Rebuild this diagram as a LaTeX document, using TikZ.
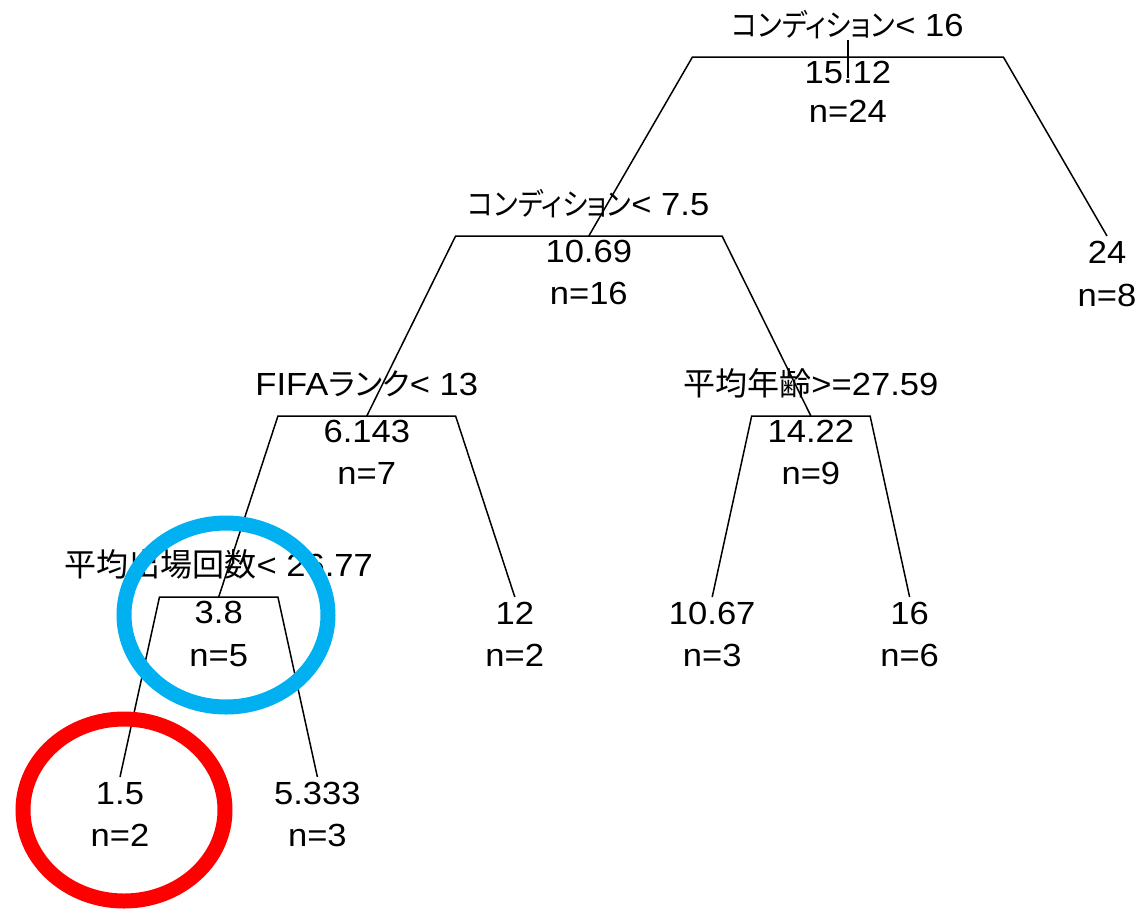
\documentclass[tikz,border=0pt]{standalone}
\usepackage{fontspec}
\setmainfont{Liberation Sans}[FakeStretch=1.08]
\newfontfamily\jp{Noto Sans CJK JP}
\newfontfamily\kana[RawFeature=+palt,Scale=0.96,FakeStretch=0.88]{Noto Sans CJK JP}
\newfontfamily\kanaw[RawFeature=+palt,Scale=0.96]{Noto Sans CJK JP}
\usetikzlibrary{calc}
\definecolor{hlblue}{RGB}{0,176,240}
\definecolor{hlred}{RGB}{255,0,0}
\tikzset{
  txt/.style={inner sep=0pt, anchor=base, font=\fontsize{32}{38}\selectfont},
  br/.style={line width=1.5pt, black},
  mark circle/.style={line width=15pt},
}
\begin{document}
\begin{tikzpicture}[x=1pt,y=-1pt]
\useasboundingbox (0,0) rectangle (1143,911);
% tree node positions
\coordinate (n1) at (847.9,57);
\coordinate (n2) at (588.8,236);
\coordinate (n3) at (366.8,416);
\coordinate (n5) at (810.9,416);
\coordinate (n4) at (218.7,597);
\coordinate (l1) at (120,777);
\coordinate (l2) at (317.4,777);
\coordinate (l3) at (514.8,597);
\coordinate (l4) at (712.2,597);
\coordinate (l5) at (909.6,597);
\coordinate (l6) at (1107,236);
% branches
\draw[br] ($(n1)+(0,-17)$) -- ($(n1)+(0,21)$);
\draw[br] (n2) -- ($(n1)!0.6!(n2 |- n1)$) -- ($(n1)!0.6!(l6 |- n1)$) -- (l6);
\draw[br] (n3) -- ($(n2)!0.6!(n3 |- n2)$) -- ($(n2)!0.6!(n5 |- n2)$) -- (n5);
\draw[br] (n4) -- ($(n3)!0.6!(n4 |- n3)$) -- ($(n3)!0.6!(l3 |- n3)$) -- (l3);
\draw[br] (l4) -- ($(n5)!0.6!(l4 |- n5)$) -- ($(n5)!0.6!(l5 |- n5)$) -- (l5);
\draw[br] (l1) -- ($(n4)!0.6!(l1 |- n4)$) -- ($(n4)!0.6!(l2 |- n4)$) -- (l2);
% split labels
\node[txt] (n1lab) at ($(n1)+(0,-21)$) {{\kana コンディション}< 16};
\node[txt] (n2lab) at ($(n2)+(0,-21)$) {{\kana コンディション}< 7.5};
\node[txt] (n3lab) at ($(n3)+(0,-21)$) {FIFA{\kanaw ランク}< 13};
\node[txt] (n5lab) at ($(n5)+(0,-21)$) {{\jp 平均年齢}>=27.59};
\node[txt] (n4lab) at ($(n4)+(0,-21)$) {{\jp 平均出場回数}< 26.77};
% values
\node[txt] (n1v) at ($(n1)+(0,26)$) {15.12};
\node[txt] (n1n) at ($(n1)+(0,65)$) {n=24};
\node[txt] (n2v) at ($(n2)+(0,26)$) {10.69};
\node[txt] (n2n) at ($(n2)+(0,68)$) {n=16};
\node[txt] (n3v) at ($(n3)+(0,26)$) {6.143};
\node[txt] (n3n) at ($(n3)+(0,68)$) {n=7};
\node[txt] (n5v) at ($(n5)+(0,26)$) {14.22};
\node[txt] (n5n) at ($(n5)+(0,68)$) {n=9};
\node[txt] (n4v) at ($(n4)+(0,26)$) {3.8};
\node[txt] (n4n) at ($(n4)+(0,69)$) {n=5};
\node[txt] (l1v) at ($(l1)+(0,27)$) {1.5};
\node[txt] (l1n) at ($(l1)+(0,69)$) {n=2};
\node[txt] (l2v) at ($(l2)+(0,27)$) {5.333};
\node[txt] (l2n) at ($(l2)+(0,69)$) {n=3};
\node[txt] (l3v) at ($(l3)+(0,27)$) {12};
\node[txt] (l3n) at ($(l3)+(0,69)$) {n=2};
\node[txt] (l4v) at ($(l4)+(0,27)$) {10.67};
\node[txt] (l4n) at ($(l4)+(0,69)$) {n=3};
\node[txt] (l5v) at ($(l5)+(0,27)$) {16};
\node[txt] (l5n) at ($(l5)+(0,69)$) {n=6};
\node[txt] (l6v) at ($(l6)+(0,27)$) {24};
\node[txt] (l6n) at ($(l6)+(0,70)$) {n=8};
% hand-drawn highlight circles
\draw[mark circle, hlblue] (226,615) ellipse [x radius=102pt, y radius=92pt];
\draw[mark circle, hlred] (124,810) ellipse [x radius=101pt, y radius=91pt];
\end{tikzpicture}
\end{document}
